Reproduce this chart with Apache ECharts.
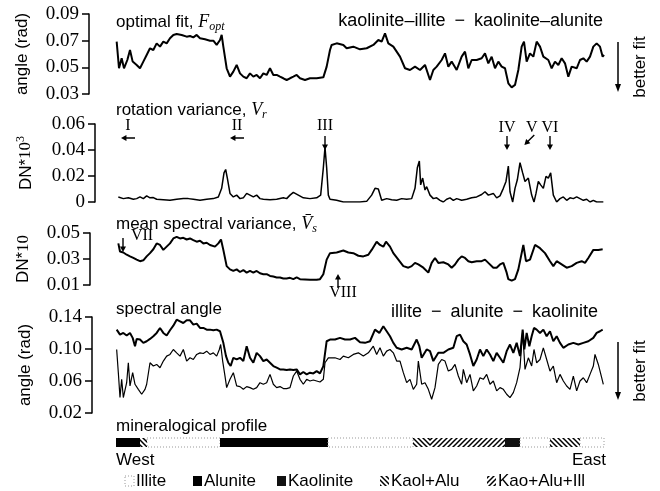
<!DOCTYPE html>
<html>
<head>
<meta charset="utf-8">
<script src="https://cdn.jsdelivr.net/npm/echarts@6/dist/echarts.min.js"></script>
<style>
  html, body { margin: 0; padding: 0; background: #fff; }
  #chart { width: 660px; height: 491px; }
</style>
</head>
<body>
<div id="chart"></div>
<script>
// distance along the transect, West -> East (arbitrary units 0..1464)
const xMax = 1464;

// optimal fit F_opt (rad)
const fitOpt = [[2,0.0693],[9,0.0493],[17,0.0568],[24,0.0493],[34,0.0555],[42,0.063],[50,0.0543],[62,0.0518],[72,0.0493],[82,0.0543],[92,0.0593],[102,0.0643],[112,0.063],[122,0.068],[132,0.0655],[142,0.0693],[152,0.068],[162,0.0718],[172,0.0743],[182,0.075],[197,0.0743],[212,0.073],[222,0.0735],[232,0.0725],[242,0.0743],[252,0.0718],[267,0.071],[282,0.070],[292,0.070],[302,0.0668],[312,0.0705],[317,0.0743],[322,0.0655],[332,0.0493],[342,0.043],[352,0.0468],[362,0.0518],[372,0.0455],[382,0.043],[392,0.0418],[402,0.0455],[412,0.043],[422,0.0443],[432,0.0418],[442,0.0455],[452,0.0443],[462,0.0493],[472,0.0443],[482,0.0443],[492,0.043],[502,0.0418],[512,0.0405],[522,0.0418],[532,0.043],[542,0.0443],[552,0.0418],[567,0.0405],[582,0.0418],[602,0.0418],[622,0.0425],[632,0.0505],[642,0.063],[647,0.0668],[662,0.068],[682,0.0668],[692,0.0643],[712,0.0655],[732,0.0635],[752,0.0643],[772,0.0668],[787,0.0705],[797,0.0693],[807,0.0755],[817,0.068],[832,0.0655],[852,0.058],[867,0.0493],[882,0.048],[897,0.0505],[912,0.048],[927,0.0518],[942,0.0405],[952,0.048],[962,0.0505],[977,0.0555],[987,0.0605],[997,0.0505],[1007,0.0543],[1022,0.048],[1037,0.058],[1047,0.0618],[1057,0.0493],[1067,0.0555],[1082,0.0555],[1097,0.0568],[1107,0.0605],[1117,0.053],[1127,0.058],[1137,0.0493],[1147,0.0543],[1157,0.0505],[1167,0.0493],[1177,0.038],[1187,0.035],[1197,0.0368],[1207,0.048],[1217,0.0655],[1224,0.0693],[1232,0.0543],[1242,0.0605],[1252,0.058],[1262,0.0693],[1272,0.0655],[1282,0.058],[1297,0.0555],[1307,0.0493],[1317,0.0543],[1327,0.0518],[1337,0.0568],[1347,0.053],[1357,0.043],[1367,0.0505],[1382,0.0493],[1392,0.0555],[1402,0.0568],[1412,0.0543],[1422,0.058],[1432,0.0655],[1442,0.068],[1452,0.0655],[1460,0.058],[1464,0.0593]];

// rotation variance V_r (DN*10^3)
const rotVar = [[7,0.0039],[22,0.0026],[37,0.0032],[52,0.0021],[62,0.0026],[72,0.0039],[82,0.0026],[92,0.0047],[102,0.0032],[112,0.0034],[122,0.0021],[142,0.0018],[162,0.0013],[182,0.0021],[202,0.0026],[217,0.0026],[232,0.0021],[252,0.0013],[272,0.0021],[292,0.0026],[307,0.0039],[317,0.0105],[324,0.0224],[329,0.025],[334,0.0184],[342,0.0066],[352,0.0039],[362,0.0053],[372,0.0026],[382,0.0032],[392,0.0066],[402,0.0053],[412,0.0039],[422,0.0053],[432,0.0026],[442,0.0021],[462,0.0018],[482,0.0021],[502,0.0032],[512,0.0026],[522,0.0053],[532,0.0074],[547,0.0053],[562,0.0032],[582,0.0026],[602,0.0032],[614,0.0053],[622,0.0263],[627,0.0421],[632,0.0263],[637,0.0053],[642,0.0021],[662,0.0013],[682,0],[712,0],[732,0],[752,0.0005],[767,0.0053],[777,0.0105],[787,0.01],[797,0.0013],[812,0.0026],[827,0.0018],[842,0.0013],[857,0.0026],[872,0.0021],[887,0.0026],[897,0.0105],[904,0.0263],[910,0.0316],[914,0.0132],[920,0.0184],[927,0.0092],[932,0.0118],[942,0.0053],[952,0.0026],[962,0.0032],[972,0.0013],[982,0],[992,0.0021],[1002,0.0032],[1012,0.0013],[1022,0.0026],[1037,0.0013],[1052,0.0021],[1067,0.0032],[1082,0.0039],[1097,0.0058],[1107,0.0079],[1117,0.0053],[1132,0.0066],[1142,0.0032],[1152,0.0047],[1162,0.0105],[1170,0.0158],[1177,0.0276],[1182,0.0079],[1190,0],[1197,0.0105],[1204,0.0171],[1212,0.0302],[1220,0.0224],[1227,0.0158],[1237,0.0184],[1247,0.0053],[1254,0],[1260,0.0066],[1267,0.0158],[1274,0.0132],[1282,0.0105],[1290,0.0197],[1297,0.0184],[1304,0.0224],[1312,0.0053],[1322,0],[1332,0.0026],[1342,0.0039],[1352,0.0013],[1362,0.0032],[1372,0.0026],[1382,0.0039],[1392,0.0026],[1402,0.0013],[1412,0.0021],[1422,0],[1432,0.0013],[1442,0],[1452,0],[1462,0]];

// mean spectral variance (DN*10)
const specVar = [[7,0.042],[12,0.0358],[22,0.035],[32,0.0333],[42,0.032],[52,0.0308],[62,0.0295],[72,0.0283],[82,0.029],[92,0.032],[102,0.0345],[112,0.0375],[122,0.042],[132,0.0408],[142,0.037],[152,0.0395],[162,0.042],[172,0.0458],[182,0.047],[192,0.0458],[202,0.0463],[212,0.045],[222,0.0458],[232,0.0445],[242,0.0433],[252,0.044],[262,0.042],[272,0.0425],[282,0.0408],[297,0.0395],[307,0.042],[315,0.045],[322,0.037],[332,0.0245],[342,0.022],[352,0.0208],[362,0.022],[372,0.02],[382,0.0215],[392,0.0195],[402,0.0208],[412,0.0195],[422,0.0208],[432,0.019],[442,0.0183],[452,0.0183],[462,0.017],[472,0.0165],[482,0.0158],[492,0.0158],[502,0.015],[512,0.015],[522,0.0155],[532,0.0145],[542,0.0158],[552,0.0145],[582,0.014],[602,0.014],[612,0.0145],[622,0.0183],[632,0.0295],[642,0.0345],[662,0.035],[682,0.0365],[697,0.035],[712,0.0345],[727,0.0325],[742,0.032],[757,0.0333],[767,0.037],[782,0.0433],[792,0.0408],[802,0.0395],[810,0.0433],[822,0.0395],[832,0.0345],[847,0.0295],[862,0.0245],[877,0.0233],[887,0.0245],[897,0.027],[907,0.0258],[922,0.0233],[937,0.0195],[947,0.027],[957,0.0308],[967,0.027],[982,0.0275],[997,0.0258],[1007,0.0233],[1017,0.0258],[1027,0.0295],[1037,0.032],[1047,0.0308],[1057,0.0283],[1067,0.0275],[1082,0.0283],[1097,0.0283],[1107,0.0295],[1117,0.027],[1132,0.0233],[1142,0.0233],[1152,0.0258],[1162,0.027],[1172,0.0195],[1177,0.0145],[1187,0.0133],[1197,0.0145],[1207,0.022],[1217,0.0345],[1222,0.0408],[1230,0.0283],[1242,0.0295],[1257,0.0408],[1272,0.0383],[1287,0.0345],[1302,0.0283],[1312,0.0245],[1322,0.0283],[1337,0.0258],[1352,0.0233],[1367,0.0245],[1382,0.027],[1397,0.0283],[1407,0.027],[1417,0.0308],[1432,0.037],[1447,0.037],[1460,0.0375]];

// spectral angle (rad), two end-member sets
const angleUpper = [[2,0.1242],[12,0.118],[22,0.1201],[32,0.1168],[42,0.1201],[50,0.1139],[57,0.1035],[62,0.1126],[72,0.1118],[82,0.1077],[92,0.1097],[102,0.1126],[112,0.116],[122,0.1201],[132,0.1263],[142,0.1201],[152,0.1168],[162,0.1234],[172,0.1292],[182,0.1367],[192,0.1346],[202,0.1325],[212,0.1359],[222,0.1359],[232,0.1305],[242,0.1317],[252,0.1263],[262,0.1263],[272,0.1242],[282,0.1242],[292,0.1234],[302,0.1242],[312,0.1222],[317,0.1242],[322,0.1077],[330,0.0911],[337,0.0828],[344,0.0787],[352,0.089],[362,0.0869],[372,0.089],[382,0.0849],[392,0.1035],[402,0.089],[412,0.0828],[422,0.0952],[432,0.0911],[442,0.0849],[452,0.0869],[462,0.0828],[472,0.0787],[482,0.0766],[492,0.0745],[502,0.0745],[512,0.0737],[522,0.0745],[532,0.0737],[542,0.0745],[552,0.0683],[562,0.0712],[572,0.0683],[582,0.0704],[592,0.0695],[602,0.0724],[612,0.0695],[622,0.0787],[632,0.1097],[642,0.1118],[657,0.1118],[672,0.1139],[687,0.1118],[702,0.1118],[717,0.1139],[732,0.1085],[747,0.1077],[762,0.1097],[777,0.1242],[790,0.1201],[802,0.1284],[812,0.1222],[822,0.116],[832,0.1077],[842,0.1015],[857,0.0994],[872,0.1015],[887,0.0994],[902,0.1118],[910,0.1035],[917,0.089],[932,0.0994],[942,0.0973],[952,0.0849],[967,0.0952],[982,0.0952],[997,0.0994],[1012,0.1015],[1022,0.116],[1032,0.118],[1042,0.1097],[1052,0.1056],[1062,0.0932],[1072,0.0787],[1082,0.0869],[1092,0.0994],[1102,0.0911],[1112,0.0994],[1122,0.0932],[1132,0.0849],[1142,0.0952],[1152,0.089],[1162,0.0828],[1172,0.0973],[1182,0.1056],[1192,0.0952],[1202,0.1077],[1212,0.0911],[1220,0.1242],[1225,0.0994],[1232,0.1201],[1240,0.1035],[1247,0.116],[1254,0.1263],[1262,0.1242],[1272,0.1201],[1282,0.1242],[1292,0.116],[1302,0.1222],[1312,0.1097],[1322,0.116],[1332,0.1077],[1342,0.1015],[1357,0.1056],[1372,0.1077],[1387,0.1056],[1402,0.1077],[1417,0.1097],[1432,0.1139],[1442,0.1201],[1452,0.1222],[1460,0.1242]];

const angleLower = [[2,0.0994],[7,0.0704],[12,0.0393],[17,0.0621],[22,0.0393],[27,0.0413],[32,0.0579],[37,0.0828],[42,0.0538],[50,0.0704],[57,0.0559],[67,0.0496],[77,0.0434],[87,0.0496],[92,0.0559],[102,0.0828],[112,0.0787],[122,0.0807],[132,0.0766],[142,0.0849],[152,0.0911],[162,0.0932],[172,0.0994],[182,0.0952],[192,0.0911],[202,0.0994],[212,0.0849],[222,0.089],[232,0.0869],[242,0.0932],[252,0.0952],[262,0.0944],[272,0.0973],[282,0.0932],[292,0.0952],[302,0.0911],[310,0.0994],[314,0.1056],[320,0.0849],[327,0.0662],[332,0.0517],[342,0.0621],[352,0.0704],[362,0.0538],[372,0.053],[382,0.0496],[392,0.053],[402,0.0517],[412,0.0496],[422,0.0517],[432,0.0579],[442,0.0559],[452,0.0579],[462,0.0683],[467,0.0704],[472,0.0559],[482,0.0517],[492,0.053],[502,0.0505],[512,0.0505],[522,0.0517],[532,0.0662],[542,0.0724],[552,0.0621],[562,0.0559],[572,0.0621],[582,0.06],[592,0.0612],[602,0.06],[612,0.0588],[622,0.0621],[627,0.0828],[637,0.089],[642,0.0869],[657,0.089],[672,0.0869],[682,0.0911],[697,0.089],[712,0.0932],[727,0.0952],[742,0.0911],[757,0.0952],[772,0.1035],[782,0.0932],[792,0.1015],[802,0.0911],[812,0.0973],[822,0.0994],[832,0.0952],[842,0.0849],[852,0.0849],[862,0.0704],[872,0.0579],[882,0.0621],[892,0.0496],[902,0.0559],[907,0.0849],[917,0.0559],[927,0.0579],[937,0.0496],[947,0.0372],[957,0.0517],[967,0.0807],[977,0.0869],[987,0.0849],[997,0.0724],[1007,0.0745],[1017,0.0807],[1027,0.0662],[1037,0.0559],[1042,0.0745],[1052,0.0579],[1062,0.0683],[1072,0.0476],[1082,0.0538],[1092,0.0641],[1102,0.0621],[1112,0.0683],[1122,0.0559],[1132,0.06],[1142,0.0476],[1152,0.0517],[1162,0.0496],[1172,0.0434],[1182,0.0393],[1192,0.0455],[1202,0.0579],[1212,0.0766],[1220,0.1222],[1227,0.0745],[1237,0.089],[1247,0.0787],[1254,0.0994],[1262,0.0828],[1272,0.0869],[1282,0.1015],[1292,0.0869],[1302,0.0724],[1312,0.0787],[1322,0.0579],[1332,0.0683],[1342,0.06],[1352,0.0538],[1362,0.0496],[1372,0.0662],[1382,0.0476],[1392,0.06],[1402,0.0641],[1412,0.0579],[1422,0.0683],[1432,0.0787],[1437,0.0932],[1447,0.0807],[1457,0.0641],[1462,0.0559]];

// y-axis ticks per panel
const ticksFit = [0.03, 0.05, 0.07, 0.09];
const ticksRot = [0, 0.02, 0.04, 0.06];
const ticksVar = [0.01, 0.03, 0.05];
const ticksAngle = [0.02, 0.06, 0.10, 0.14];

// mineralogical profile: segment boundaries and mineral of each segment
const profileBounds = [0, 72, 93, 312, 636, 891, 942, 1167, 1212, 1302, 1392, 1464];
const profileMineral = ['Alunite', 'Kaol+Alu', 'Illite', 'Alunite', 'Illite', 'Kaol+Alu', 'Kao+Alu+Ill', 'Kaolinite', 'Illite', 'Kaol+Alu', 'Illite'];
const minerals = ['Illite', 'Alunite', 'Kaolinite', 'Kaol+Alu', 'Kao+Alu+Ill'];

// annotations: [label, text x, text y, arrow x, arrow y, arrow rotation, label dy]
const rotNotes = [
  ['I', 36, 0.0585, 36, 0.0492, 90, 0],
  ['II', 363, 0.0585, 363, 0.0492, 90, 0],
  ['III', 627, 0.0585, 627, 0.0454, 180, 0],
  ['IV', 1173, 0.0569, 1173, 0.0454, 180, 0],
  ['V', 1247, 0.0569, 1240, 0.0477, 135, 0],
  ['VI', 1302, 0.0569, 1302, 0.0454, 180, 0]
];
const varNotes = [
  ['VII', 78, 0.0477, 21, 0.0408, 180, 0],
  ['VIII', 681, 0.01, 666, 0.0131, 0, 8]
];

const sans = 'Liberation Sans';
const serif = 'Liberation Serif';
const dash = '\u2002\u2212\u2002';
const arrowPath = 'path://M3,0 L6,7 L3.7,7 L3.7,18 L2.3,18 L2.3,7 L0,7 Z';

function hatch(dir) {
  const c = document.createElement('canvas');
  c.width = 5; c.height = 5;
  const g = c.getContext('2d');
  g.strokeStyle = '#000';
  g.lineWidth = 1.5;
  g.beginPath();
  if (dir > 0) {
    g.moveTo(0, 5); g.lineTo(5, 0);
    g.moveTo(-1, 1); g.lineTo(1, -1);
    g.moveTo(4, 6); g.lineTo(6, 4);
  } else {
    g.moveTo(0, 0); g.lineTo(5, 5);
    g.moveTo(-1, 4); g.lineTo(1, 6);
    g.moveTo(4, -1); g.lineTo(6, 1);
  }
  g.stroke();
  return c;
}

function mineralStyle(m) {
  if (m === 'Illite') return {fill: '#fff', stroke: '#999', lineWidth: 1, lineDash: [1, 2]};
  if (m === 'Alunite') return {fill: '#000'};
  if (m === 'Kaolinite') return {fill: '#111'};
  if (m === 'Kaol+Alu') return {fill: {image: hatch(-1), repeat: 'repeat'}};
  return {fill: {image: hatch(1), repeat: 'repeat'}};
}

function notePoints(notes) {
  const out = [];
  notes.forEach(n => {
    out.push({
      coord: [n[1], n[2]], symbol: 'circle', symbolSize: 0,
      label: {show: true, position: 'inside', offset: [0, n[6]], formatter: n[0],
        fontFamily: serif, fontSize: 16, color: '#000'}
    });
    out.push({
      coord: [n[3], n[4]], symbol: arrowPath, symbolSize: [6, 14], symbolRotate: n[5],
      itemStyle: {color: '#000'}, label: {show: false}
    });
  });
  return out;
}

const grids = [
  {left: 116, right: 56, top: 14, height: 80},
  {left: 116, right: 56, top: 124, height: 78},
  {left: 116, right: 56, top: 233, height: 52},
  {left: 116, right: 56, top: 317, height: 96},
  {left: 116, right: 56, top: 438, height: 9}
];

function yAxisFor(i, ticks, offset, name, rich) {
  return {
    gridIndex: i, type: 'value',
    min: ticks[0], max: ticks[ticks.length - 1], interval: ticks[1] - ticks[0],
    offset: offset,
    axisLine: {show: true, onZero: false, lineStyle: {color: '#000', width: 1.5}},
    axisTick: {show: true, length: 7, lineStyle: {color: '#000', width: 1.5}},
    axisLabel: {
      margin: 10, fontFamily: serif, fontSize: 19, color: '#000',
      formatter: v => (Math.abs(v) < 1e-9 ? '0' : v.toFixed(2))
    },
    splitLine: {show: false},
    name: name, nameLocation: 'middle', nameRotate: 90, nameGap: 58,
    nameTextStyle: {fontFamily: sans, fontSize: 17, color: '#000', rich: rich}
  };
}

const dnRich = {
  a: {fontFamily: sans, fontSize: 17, color: '#000'},
  b: {fontFamily: serif, fontSize: 17, color: '#000'},
  c: {fontFamily: serif, fontSize: 12, color: '#000', padding: [0, 0, 10, 0]}
};

function lineSeries(i, data, width) {
  return {
    type: 'line', xAxisIndex: i, yAxisIndex: i, data: data,
    showSymbol: false, symbol: 'none', animation: false,
    lineStyle: {color: '#000', width: width}
  };
}

function text(x, y, t, align, rich, extra, size) {
  return Object.assign({
    type: 'text', x: x, y: y,
    style: {
      text: t, fill: '#000', font: (size || 17) + 'px ' + sans,
      textAlign: align || 'left', textVerticalAlign: 'middle', rich: rich
    }
  }, extra || {});
}

const mathRich = {
  t: {fontFamily: sans, fontSize: 17, fill: '#000'},
  m: {fontFamily: serif, fontStyle: 'italic', fontSize: 18, fill: '#000'},
  s: {fontFamily: serif, fontStyle: 'italic', fontSize: 12, fill: '#000', padding: [9, 0, 0, 0]}
};

function betterFit(y0, y1) {
  const cx = 618;
  return [
    {type: 'line', shape: {x1: cx, y1: y0, x2: cx, y2: y1 - 6}, style: {stroke: '#000', lineWidth: 1.5}},
    {type: 'polygon', shape: {points: [[cx - 3, y1 - 8], [cx + 3, y1 - 8], [cx, y1]]}, style: {fill: '#000'}},
    text(640, (y0 + y1) / 2, 'better fit', 'center', null, {rotation: Math.PI / 2})
  ];
}

function legendItems() {
  const xs = [125, 193, 277, 380, 487];
  const items = [];
  minerals.forEach((m, i) => {
    const st = mineralStyle(m);
    items.push({type: 'rect', shape: {x: xs[i], y: 476, width: 9, height: 10}, style: st});
    items.push(text(xs[i] + 11, 481, m, 'left'));
  });
  return items;
}

const chart = echarts.init(document.getElementById('chart'));
chart.setOption({
  animation: false,
  backgroundColor: '#fff',
  grid: grids,
  xAxis: grids.map((g, i) => ({gridIndex: i, type: 'value', min: 0, max: xMax, show: false})),
  yAxis: [
    yAxisFor(0, ticksFit, 27, 'angle (rad)'),
    yAxisFor(1, ticksRot, 21, '{a|DN*}{b|10}{c|3}', dnRich),
    yAxisFor(2, ticksVar, 26, '{a|DN*}{b|10}', dnRich),
    yAxisFor(3, ticksAngle, 24, 'angle (rad)'),
    {gridIndex: 4, type: 'value', min: 0, max: 1, show: false}
  ],
  series: [
    lineSeries(0, fitOpt, 2),
    Object.assign(lineSeries(1, rotVar, 1.5), {markPoint: {animation: false, data: notePoints(rotNotes)}}),
    Object.assign(lineSeries(2, specVar, 2), {markPoint: {animation: false, data: notePoints(varNotes)}}),
    lineSeries(3, angleUpper, 2),
    lineSeries(3, angleLower, 1.2),
    {
      type: 'custom', xAxisIndex: 4, yAxisIndex: 4, animation: false,
      data: profileMineral.map((m, i) => [profileBounds[i], profileBounds[i + 1]]),
      encode: {x: [0, 1]},
      renderItem: (params, api) => {
        const p0 = api.coord([api.value(0), 1]);
        const p1 = api.coord([api.value(1), 0]);
        return {
          type: 'rect',
          shape: {x: p0[0], y: p0[1], width: p1[0] - p0[0], height: p1[1] - p0[1]},
          style: mineralStyle(profileMineral[params.dataIndex])
        };
      }
    }
  ],
  graphic: [
    text(116, 22, '{t|optimal fit, }{m|F}{s|opt}', 'left', mathRich),
    text(603, 21, 'kaolinite–illite' + dash + 'kaolinite–alunite', 'right', null, null, 18),
    text(116, 110, '{t|rotation variance, }{m|V}{s|r}', 'left', mathRich),
    text(116, 224, '{t|mean spectral variance, }{m|V\u0304}{s|s}', 'left', mathRich),
    text(116, 309, 'spectral angle', 'left'),
    text(598, 312, 'illite' + dash + 'alunite' + dash + 'kaolinite', 'right', null, null, 18),
    text(116, 426, 'mineralogical profile', 'left'),
    text(116, 460, 'West', 'left'),
    text(606, 460, 'East', 'right')
  ].concat(betterFit(42, 92), betterFit(342, 400), legendItems())
});
</script>
</body>
</html>
